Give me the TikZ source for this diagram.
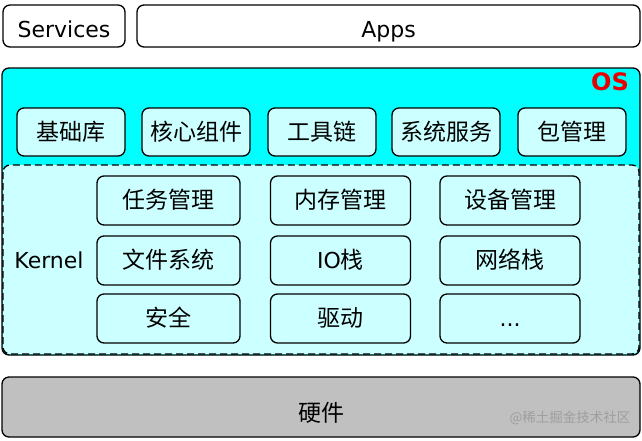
\documentclass[tikz,border=0pt]{standalone}
\usepackage{fontspec}
\setmainfont{DejaVu Sans}
\newfontfamily\cjk{Noto Sans CJK SC}
\newcommand\zh[1]{{\cjk\fontsize{23}{26}\selectfont #1}}
\definecolor{oscyan}{HTML}{00FFFF}
\definecolor{lcyan}{HTML}{CCFFFF}
\definecolor{hwgray}{HTML}{C0C0C0}
\definecolor{osred}{HTML}{E60000}
\begin{document}
\begin{tikzpicture}[x=1pt,y=-1pt,
  box/.style={draw=black,line width=1.3pt,rounded corners=7pt,inner sep=0pt,
    font=\fontsize{22}{26}\selectfont,text height=16.5pt,text depth=0pt},
  comp/.style={box,fill=lcyan,minimum width=108pt,minimum height=48pt},
  kcomp/.style={box,fill=lcyan,minimum width=140pt,minimum height=49pt},
  lbl/.style={inner sep=0pt,font=\fontsize{22}{26}\selectfont,text height=16.5pt,text depth=0pt}]
\useasboundingbox (0,0) rectangle (642,440);
% top row
\node[box,fill=white,minimum width=122pt,minimum height=42pt] (services) at (64,26) {\raisebox{-3.5pt}{Services}};
\node[box,fill=white,minimum width=503pt,minimum height=42pt] (apps) at (388.5,26) {\raisebox{-3.5pt}{Apps}};
% OS
\node[box,fill=oscyan,minimum width=638pt,minimum height=287pt] (os) at (321,211.5) {};
\node[inner sep=0pt,text=osred,font=\fontsize{24}{26}\selectfont\bfseries,anchor=north east] (ostext) at (629,72) {OS};
% kernel area
\draw[fill=lcyan,line width=1.3pt,dash pattern=on 7pt off 4pt,rounded corners=7pt] (3,165) rectangle (639,354);
\node[lbl] (kernel) at (49,260.5) {Kernel};
% OS components
\node[comp] (jcl) at (71,132) {\zh{基础库}};
\node[comp] (hxzj) at (196,132) {\zh{核心组件}};
\node[comp] (gjl) at (322,132) {\zh{工具链}};
\node[comp] (xtfw) at (446,132) {\zh{系统服务}};
\node[comp] (bgl) at (572,132) {\zh{包管理}};
% kernel components
\node[kcomp,minimum width=143pt] (rwgl) at (168.5,200.5) {\zh{任务管理}};
\node[kcomp] (ncgl) at (340.5,200.5) {\zh{内存管理}};
\node[kcomp] (sbgl) at (510,200.5) {\zh{设备管理}};
\node[kcomp,minimum width=143pt] (wjxt) at (168.5,260.5) {\zh{文件系统}};
\node[kcomp] (iozhan) at (340.5,260.5) {IO\zh{栈}};
\node[kcomp] (wlz) at (510,260.5) {\zh{网络栈}};
\node[kcomp,minimum width=143pt] (aq) at (168.5,318.5) {\zh{安全}};
\node[kcomp] (qd) at (340.5,318.5) {\zh{驱动}};
\node[kcomp] (more) at (510,318.5) {...};
% hardware
\node[box,fill=hwgray,minimum width=638pt,minimum height=60pt] (hw) at (321,407) {\raisebox{-6pt}{\zh{硬件}}};
\node[inner sep=0pt,text=black!38,font=\cjk\fontsize{13.5}{15}\selectfont] (wm) at (570,418) {@稀土掘金技术社区};
\end{tikzpicture}
\end{document}
